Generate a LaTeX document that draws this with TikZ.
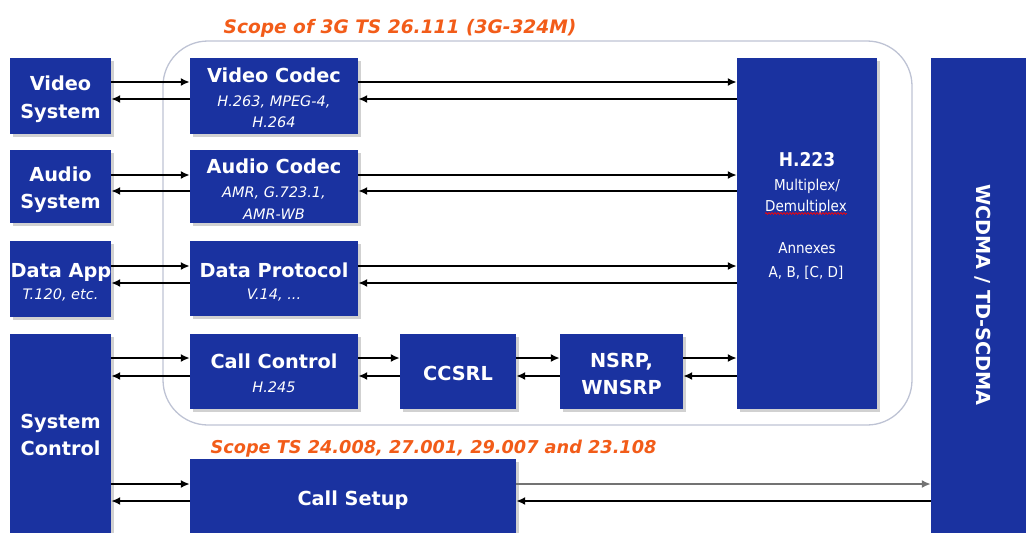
\documentclass[tikz,border=0pt]{standalone}
\usepackage{fontspec}
\setmainfont{DejaVu Sans}
\newfontfamily\dvs{DejaVu Sans}
\newfontfamily\dvc{DejaVu Sans Condensed}
\usetikzlibrary{arrows.meta,decorations.pathmorphing}
\definecolor{boxblue}{RGB}{26,50,160}
\definecolor{scopeorange}{RGB}{242,92,25}
\definecolor{scopeline}{RGB}{190,195,212}
\tikzset{
  blk/.style={fill=boxblue, draw=none, inner sep=0pt, anchor=center,
    preaction={fill=black!18, transform canvas={shift={(2.5pt,-2.5pt)}}}},
  ttl/.style={anchor=base, text=white, inner sep=0pt, font=\dvs\bfseries\fontsize{19.3}{22}\selectfont},
  sub/.style={anchor=base, text=white, inner sep=0pt, font=\dvs\itshape\fontsize{14.5}{17}\selectfont},
  reg/.style={anchor=base, text=white, inner sep=0pt, font=\dvc\fontsize{15}{17}\selectfont},
  scopettl/.style={anchor=base, text=scopeorange, inner sep=0pt, font=\dvs\bfseries\itshape\fontsize{18.6}{21}\selectfont},
  arr/.style={line width=1.8pt, -{Latex[length=9pt,width=8pt]}},
}
\begin{document}
\begin{tikzpicture}[x=1pt,y=-1pt]
\useasboundingbox (0,0) rectangle (1026,533);
% scope container
\node[draw=scopeline, line width=1.3pt, rounded corners=45pt, minimum width=749pt, minimum height=384pt, inner sep=0pt] (scopebox) at (537.5,233) {};
\node[scopettl] (scope1) at (400,33) {Scope of 3G TS 26.111 (3G-324M)};
\node[scopettl, font=\dvs\bfseries\itshape\fontsize{17.7}{21}\selectfont] (scope2) at (433.5,453) {Scope TS 24.008, 27.001, 29.007 and 23.108};
% left column
\node[blk, minimum width=101pt, minimum height=76pt] (vs) at (60.5,96) {};
\node[blk, minimum width=101pt, minimum height=73pt] (as) at (60.5,186.5) {};
\node[blk, minimum width=101pt, minimum height=76pt] (da) at (60.5,279) {};
\node[blk, minimum width=101pt, minimum height=204pt] (sc) at (60.5,436) {};
% middle
\node[blk, minimum width=168pt, minimum height=76pt] (vc) at (274,96) {};
\node[blk, minimum width=168pt, minimum height=73pt] (ac) at (274,186.5) {};
\node[blk, minimum width=168pt, minimum height=75pt] (dp) at (274,278.5) {};
\node[blk, minimum width=168pt, minimum height=75pt] (cc) at (274,371.5) {};
\node[blk, minimum width=116pt, minimum height=75pt] (ccsrl) at (458,371.5) {};
\node[blk, minimum width=123pt, minimum height=75pt] (nsrp) at (621.5,371.5) {};
\node[blk, minimum width=140pt, minimum height=351pt] (h223) at (807,233.5) {};
\node[blk, minimum width=326pt, minimum height=80pt] (cs) at (353,499) {};
\node[blk, minimum width=100pt, minimum height=480pt] (wc) at (981,298) {};
% texts
\node[ttl] (vs1) at (60.5,90) {Video};
\node[ttl] (vs2) at (60.5,118) {System};
\node[ttl] (as1) at (60.5,181) {Audio};
\node[ttl] (as2) at (60.5,208) {System};
\node[ttl] (da1) at (61,277) {Data App};
\node[sub] (da2) at (60.5,299) {T.120, etc.};
\node[ttl] (sc1) at (60.5,428) {System};
\node[ttl] (sc2) at (60.5,455) {Control};
\node[ttl] (vc1) at (274,82) {Video Codec};
\node[sub] (vc2) at (274,106) {H.263, MPEG-4,};
\node[sub] (vc3) at (274,127) {H.264};
\node[ttl] (ac1) at (274,173) {Audio Codec};
\node[sub] (ac2) at (274,197) {AMR, G.723.1,};
\node[sub] (ac3) at (274,219) {AMR-WB};
\node[ttl] (dp1) at (274,277) {Data Protocol};
\node[sub] (dp2) at (274,299) {V.14, ...};
\node[ttl] (cc1) at (274,368) {Call Control};
\node[sub] (cc2) at (274,392) {H.245};
\node[ttl] (ccsrl1) at (458,380) {CCSRL};
\node[ttl] (nsrp1) at (621.5,367) {NSRP,};
\node[ttl] (nsrp2) at (621.5,394) {WNSRP};
\node[ttl, font=\dvc\bfseries\fontsize{19}{22}\selectfont] (h1) at (807,166) {H.223};
\node[reg] (h2) at (807,190) {Multiplex/};
\node[reg] (h3) at (806,211) {Demultiplex};
\node[reg] (h4) at (807,253) {Annexes};
\node[reg] (h5) at (806,277) {A, B, [C, D]};
\draw[red, line width=0.7pt, decorate, decoration={snake, amplitude=0.9pt, segment length=3pt}] (h3.base west) ++(0,2.5) coordinate (wv1) -- (h3.base east |- wv1);
\node[ttl, rotate=-90, anchor=center] (wc1) at (983,295) {WCDMA / TD-SCDMA};
\node[ttl] (cs1) at (353,505) {Call Setup};
% arrows left
\draw[arr] (vs.east |- 0,82) -- (vc.west |- 0,82);
\draw[arr] (vc.west |- 0,99) -- (vs.east |- 0,99);
\draw[arr] (as.east |- 0,175) -- (ac.west |- 0,175);
\draw[arr] (ac.west |- 0,191) -- (as.east |- 0,191);
\draw[arr] (da.east |- 0,266) -- (dp.west |- 0,266);
\draw[arr] (dp.west |- 0,283) -- (da.east |- 0,283);
\draw[arr] (sc.east |- 0,358) -- (cc.west |- 0,358);
\draw[arr] (cc.west |- 0,376) -- (sc.east |- 0,376);
\draw[arr] (sc.east |- 0,484) -- (cs.west |- 0,484);
\draw[arr] (cs.west |- 0,501) -- (sc.east |- 0,501);
% arrows right
\draw[arr] (vc.east |- 0,82) -- (h223.west |- 0,82);
\draw[arr] (h223.west |- 0,99) -- (vc.east |- 0,99);
\draw[arr] (ac.east |- 0,175) -- (h223.west |- 0,175);
\draw[arr] (h223.west |- 0,191) -- (ac.east |- 0,191);
\draw[arr] (dp.east |- 0,266) -- (h223.west |- 0,266);
\draw[arr] (h223.west |- 0,283) -- (dp.east |- 0,283);
\draw[arr] (cc.east |- 0,358) -- (ccsrl.west |- 0,358);
\draw[arr] (ccsrl.west |- 0,376) -- (cc.east |- 0,376);
\draw[arr] (ccsrl.east |- 0,358) -- (nsrp.west |- 0,358);
\draw[arr] (nsrp.west |- 0,376) -- (ccsrl.east |- 0,376);
\draw[arr] (nsrp.east |- 0,358) -- (h223.west |- 0,358);
\draw[arr] (h223.west |- 0,376) -- (nsrp.east |- 0,376);
\draw[arr, draw=black!55, fill=black, line width=2.2pt] (cs.east |- 0,484) -- (wc.west |- 0,484);
\draw[arr] (wc.west |- 0,501) -- (cs.east |- 0,501);
\end{tikzpicture}
\end{document}
